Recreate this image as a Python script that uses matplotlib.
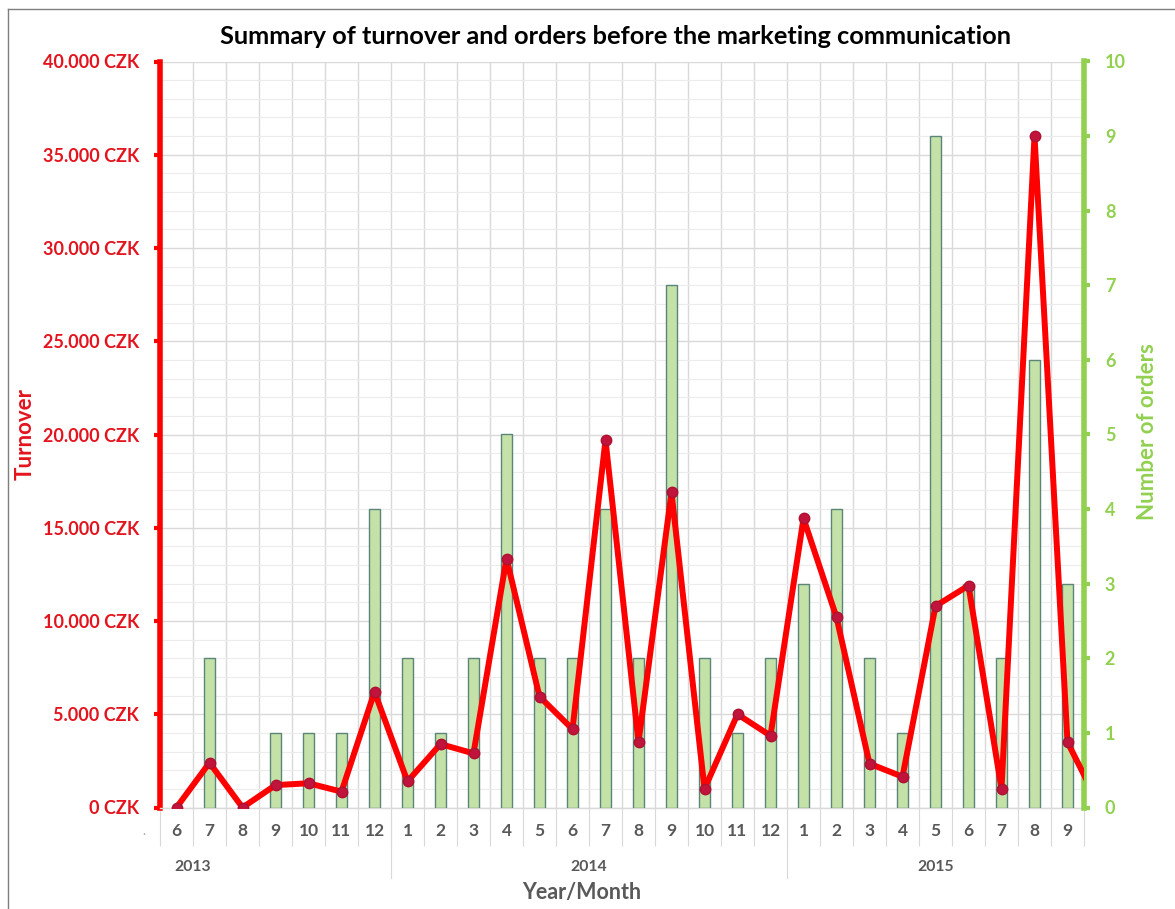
import matplotlib
matplotlib.use("Agg")
import matplotlib.pyplot as plt
from matplotlib.lines import Line2D
from matplotlib.ticker import FuncFormatter, MultipleLocator
import matplotlib.transforms as mtransforms

plt.rcParams['font.family'] = ['Lato', 'DejaVu Sans']

# ---------------- data ----------------
years = ["2013", "2014", "2015"]
year_months = [[6, 7, 8, 9, 10, 11, 12],
               [1, 2, 3, 4, 5, 6, 7, 8, 9, 10, 11, 12],
               [1, 2, 3, 4, 5, 6, 7, 8, 9]]
month_labels = [str(m) for grp in year_months for m in grp]
orders = [0, 2, 0, 1, 1, 1, 4,
          2, 1, 2, 5, 2, 2, 4, 2, 7, 2, 1, 2,
          3, 4, 2, 1, 9, 3, 2, 6, 3]
turnover = [0, 2400, 0, 1200, 1300, 850, 6200,
            1400, 3400, 2900, 13350, 5950, 4200, 19700, 3500, 16900, 1000, 5000, 3850,
            15500, 10200, 2350, 1650, 10800, 11900, 1000, 36000, 3500]
turnover_next = [0]   # following month (2015/10), clipped at the plot edge

title = "Summary of turnover and orders before the marketing communication"
left_label = "Turnover"
right_label = "Number of orders"
x_label = "Year/Month"

# ---------------- style ----------------
RED = "#ff0000"
RED_TXT = "#e3141e"
GREEN = "#92d050"
GRAY_TXT = "#595959"
GRID = "#d9d9d9"
GRID_MINOR = "#ececec"

W, H = 1175, 909
fig = plt.figure(figsize=(W / 100, H / 100), dpi=100)
L, R, B, T = 160, 1084, 807.5, 61.5
ax = fig.add_axes([L / W, 1 - B / H, (R - L) / W, (B - T) / H])
ax2 = ax.twinx()   # orders (bars)
ax3 = ax.twinx()   # turnover line on top

n = len(month_labels)
xs = list(range(n))

# base axis: turnover scale + grid
ax.set_xlim(-0.5, n - 0.5)
ax.set_ylim(0, 40000)
ax.yaxis.set_major_locator(MultipleLocator(5000))
ax.yaxis.set_minor_locator(MultipleLocator(1000))
ax.yaxis.set_major_formatter(FuncFormatter(lambda v, p: f"{int(v):,} CZK".replace(",", ".")))
ax.grid(True, which='major', axis='y', color=GRID, lw=1.0)
ax.grid(True, which='minor', axis='y', color=GRID_MINOR, lw=0.8)
ax.set_xticks(xs)
ax.set_xticklabels(month_labels)
ax.set_xticks([i - 0.5 for i in range(n + 1)], minor=True)
ax.grid(True, which='minor', axis='x', color=GRID, lw=1.0)
ax.set_axisbelow(True)

ax.tick_params(axis='x', which='major', length=0, pad=11, labelsize=12.5, labelcolor=GRAY_TXT)
ax.tick_params(axis='x', which='minor', length=27, width=0.8, color=GRID, direction='out')
ax.tick_params(axis='y', which='major', length=4, width=3, color=RED, labelsize=13,
               labelcolor=RED_TXT, pad=11, left=True, right=False)
ax.tick_params(axis='y', which='minor', length=0)
for lab in ax.get_yticklabels():
    lab.set_fontweight('bold')
for lab in ax.get_xticklabels():
    lab.set_fontweight('bold')
for s in ['top', 'right']:
    ax.spines[s].set_visible(False)
ax.spines['bottom'].set_color(GRID)
ax.spines['bottom'].set_linewidth(1.0)
ax.spines['left'].set_color(RED)
ax.spines['left'].set_linewidth(4)

# bars on orders axis
ax2.set_ylim(0, 10)
ax2.yaxis.set_major_locator(MultipleLocator(1))
ax2.bar(xs, orders, width=0.33, color="#c4e2a8", edgecolor="#5a8578", linewidth=1.0, zorder=2)
for s in ['top', 'left', 'bottom']:
    ax2.spines[s].set_visible(False)
ax2.spines['right'].set_color(GREEN)
ax2.spines['right'].set_linewidth(4)
ax2.tick_params(axis='y', length=4, width=3, color=GREEN, labelsize=13, labelcolor=GREEN, pad=11)
for lab in ax2.get_yticklabels():
    lab.set_fontweight('bold')

# line on top
ax3.set_ylim(ax.get_ylim())
ax3.set_xlim(ax.get_xlim())
line_x = xs + [n + i for i in range(len(turnover_next))]
line_y = turnover + turnover_next
ax3.plot(line_x, line_y, color=RED, lw=4.3, solid_joinstyle='round', zorder=3,
         marker='o', markersize=7.5, markerfacecolor="#c0143c", markeredgecolor="#b01030",
         markevery=list(range(n)))
ax3.axis('off')

# year labels and separators
trans = mtransforms.blended_transform_factory(ax.transData, ax.transAxes)
start = 0
for yi, (yr, grp) in enumerate(zip(years, year_months)):
    end = start + len(grp)
    if yi == 0:
        cx = start + 0.5
    else:
        cx = (start + end - 1) / 2
    ax.text(cx, -0.080, yr, transform=trans, ha='center', va='center',
            fontsize=11.3, fontweight='bold', color=GRAY_TXT)
    if yi > 0:
        ax.add_line(Line2D([start - 0.5, start - 0.5], [0, -0.095], transform=trans,
                           color=GRID, lw=0.8, clip_on=False))
    start = end
ax.text(-1.0, -0.031, ".", transform=trans, ha='center', va='center', fontsize=9, color="#a0a0a0")

# titles
fig.text(616 / W, 1 - 37 / H, title, ha='center', va='center', fontsize=18.3,
         fontweight='bold', color='black')
fig.text(25 / W, 1 - 434 / H, left_label, rotation=90, ha='center', va='center',
         fontsize=16, fontweight='bold', color=RED_TXT)
fig.text(1148 / W, 1 - 432 / H, right_label, rotation=90, ha='center', va='center',
         fontsize=16, fontweight='bold', color=GREEN)
fig.text(582 / W, 1 - 893 / H, x_label, ha='center', va='center',
         fontsize=15.5, fontweight='bold', color=GRAY_TXT)

# outer frame (left and top edges visible)
fig.add_artist(Line2D([7.5 / W, 7.5 / W], [0, 1 - 9 / H], transform=fig.transFigure,
                      color="#7f7f7f", lw=1))
fig.add_artist(Line2D([7.5 / W, 1], [1 - 9 / H, 1 - 9 / H], transform=fig.transFigure,
                      color="#7f7f7f", lw=1))

fig.savefig("out.png", dpi=100)
